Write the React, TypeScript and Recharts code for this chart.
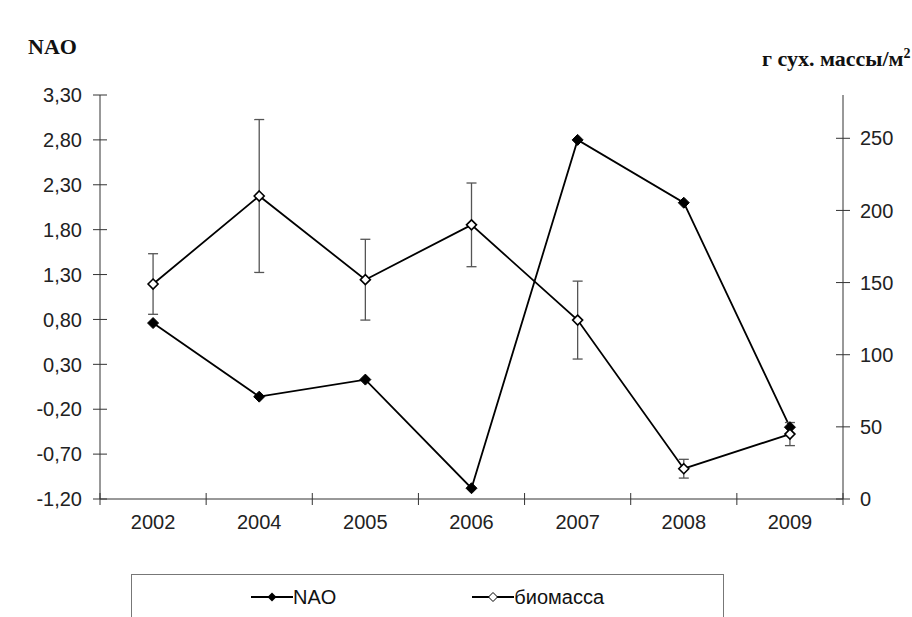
import { LineChart, Line, XAxis, YAxis, ErrorBar, Legend } from 'recharts';

// categories and series
const YEARS = ['2002', '2004', '2005', '2006', '2007', '2008', '2009'];
const NAO = [0.76, -0.06, 0.13, -1.08, 2.8, 2.1, -0.4];
const BIOMASS = [149, 210, 152, 190, 124, 21, 45];
const BIOMASS_ERR = [21, 53, 28, 29, 27, 6.5, 8];

const NAO_TICKS = [-1.2, -0.7, -0.2, 0.3, 0.8, 1.3, 1.8, 2.3, 2.8, 3.3];
const BIOMASS_TICKS = [0, 50, 100, 150, 200, 250];

const data = YEARS.map((year, i) => ({
  year,
  nao: NAO[i],
  biomass: BIOMASS[i],
  err: BIOMASS_ERR[i],
}));

const W = 912;
const H = 617;
const MARGIN = { top: 95, right: 9, bottom: 78, left: 20 };
const LEFT_AXIS_W = 80;
const RIGHT_AXIS_W = 60;
const PLOT_W = W - MARGIN.left - MARGIN.right - LEFT_AXIS_W - RIGHT_AXIS_W;
const BAND = PLOT_W / YEARS.length;

const AXIS_COLOR = '#333';
const TEXT_COLOR = '#222';
const TICK_FONT = 20;
const SANS = '"Liberation Sans", Arial, sans-serif';
const SERIF = '"Liberation Serif", "Times New Roman", serif';

const fmtNao = (v: number) => v.toFixed(2).replace('.', ',');

const LeftTick = ({ x, y, payload }: any) => (
  <g>
    <line x1={x - 7} x2={x + 7} y1={y} y2={y} stroke={AXIS_COLOR} />
    <text x={x - 18} y={y} dy="0.36em" textAnchor="end" fill={TEXT_COLOR} fontSize={TICK_FONT} fontFamily={SANS}>
      {fmtNao(payload.value)}
    </text>
  </g>
);

const RightTick = ({ x, y, payload }: any) => (
  <g>
    <line x1={x - 7} x2={x + 7} y1={y} y2={y} stroke={AXIS_COLOR} />
    <text x={x + 17} y={y} dy="0.36em" textAnchor="start" fill={TEXT_COLOR} fontSize={TICK_FONT} fontFamily={SANS}>
      {payload.value}
    </text>
  </g>
);

// Excel-style category axis: ticks sit between categories, labels in the middle
const YearTick = ({ x, y, payload, index }: any) => (
  <g>
    <line x1={x - BAND / 2} x2={x - BAND / 2} y1={y - 6} y2={y + 6} stroke={AXIS_COLOR} />
    {index === YEARS.length - 1 && (
      <line x1={x + BAND / 2} x2={x + BAND / 2} y1={y - 6} y2={y + 6} stroke={AXIS_COLOR} />
    )}
    <text x={x} y={y + 30} textAnchor="middle" fill={TEXT_COLOR} fontSize={TICK_FONT} fontFamily={SANS}>
      {payload.value}
    </text>
  </g>
);

const diamond = (cx: number, cy: number, r: number) =>
  `${cx},${cy - r} ${cx + r},${cy} ${cx},${cy + r} ${cx - r},${cy}`;

const FilledDot = (props: any) => {
  const { cx, cy, index } = props;
  if (cx == null || cy == null) return <g key={`n-${index}`} />;
  return <polygon key={`n-${index}`} points={diamond(cx, cy, 5.5)} fill="#000" stroke="#000" />;
};

const OpenDot = (props: any) => {
  const { cx, cy, index } = props;
  if (cx == null || cy == null) return <g key={`b-${index}`} />;
  return <polygon key={`b-${index}`} points={diamond(cx, cy, 5)} fill="#fff" stroke="#000" strokeWidth={1.6} />;
};

const LegendBox = ({ payload }: any) => (
  <div
    style={{
      width: '100%',
      height: '100%',
      boxSizing: 'border-box',
      border: '1px solid #777',
      display: 'flex',
      justifyContent: 'center',
      gap: 136,
      paddingTop: 10,
      fontFamily: SANS,
      fontSize: 20,
      color: '#111',
    }}
  >
    {(payload || []).map((entry: any) => (
      <div key={entry.value} style={{ display: 'flex', alignItems: 'center', height: 24 }}>
        <svg width={42} height={14}>
          <line x1={0} x2={42} y1={7} y2={7} stroke="#000" strokeWidth={1.8} />
          {entry.dataKey === 'nao' ? (
            <polygon points={diamond(21, 7, 4.5)} fill="#000" />
          ) : (
            <polygon points={diamond(21, 7, 4.5)} fill="#fff" stroke="#000" strokeWidth={1} />
          )}
        </svg>
        <span>{entry.value}</span>
      </div>
    ))}
  </div>
);

export default function App() {
  return (
    <div style={{ position: 'absolute', left: 0, top: 0, width: W, height: H, overflow: 'hidden', background: '#fff' }}>
      <div style={{ position: 'absolute', left: 28, top: 34, fontFamily: SERIF, fontWeight: 'bold', fontSize: 22, color: '#111' }}>
        NAO
      </div>
      <div
        style={{
          position: 'absolute',
          left: 762,
          top: 48,
          lineHeight: 1,
          fontFamily: SERIF,
          fontWeight: 'bold',
          fontSize: 22,
          color: '#111',
          whiteSpace: 'nowrap',
        }}
      >
        г сух. массы/м<sup style={{ fontSize: 14, lineHeight: 0 }}>2</sup>
      </div>
      <LineChart width={W} height={H} data={data} margin={MARGIN}>
        <XAxis
          dataKey="year"
          height={40}
          padding={{ left: BAND / 2, right: BAND / 2 }}
          axisLine={{ stroke: AXIS_COLOR }}
          tickLine={false}
          tickSize={0}
          tickMargin={0}
          interval={0}
          tick={<YearTick />}
        />
        <YAxis
          yAxisId="nao"
          orientation="left"
          width={LEFT_AXIS_W}
          domain={[-1.2, 3.3]}
          ticks={NAO_TICKS}
          interval={0}
          axisLine={{ stroke: AXIS_COLOR }}
          tickLine={false}
          tickSize={0}
          tickMargin={0}
          tick={<LeftTick />}
        />
        <YAxis
          yAxisId="bio"
          orientation="right"
          width={RIGHT_AXIS_W}
          domain={[0, 280]}
          ticks={BIOMASS_TICKS}
          interval={0}
          axisLine={{ stroke: AXIS_COLOR }}
          tickLine={false}
          tickSize={0}
          tickMargin={0}
          tick={<RightTick />}
        />
        <Line
          yAxisId="nao"
          dataKey="nao"
          name="NAO"
          type="linear"
          stroke="#000"
          strokeWidth={1.8}
          dot={FilledDot}
          activeDot={false}
          isAnimationActive={false}
        />
        <Line
          yAxisId="bio"
          dataKey="biomass"
          name="биомасса"
          type="linear"
          stroke="#000"
          strokeWidth={1.8}
          dot={OpenDot}
          activeDot={false}
          isAnimationActive={false}
        >
          <ErrorBar dataKey="err" direction="y" width={5} stroke="#555" strokeWidth={1.3} isAnimationActive={false} />
        </Line>
        <Legend
          verticalAlign="middle"
          align="center"
          layout="horizontal"
          content={<LegendBox />}
          wrapperStyle={{ left: 131, top: 574, width: 593, height: 60 }}
        />
      </LineChart>
    </div>
  );
}
